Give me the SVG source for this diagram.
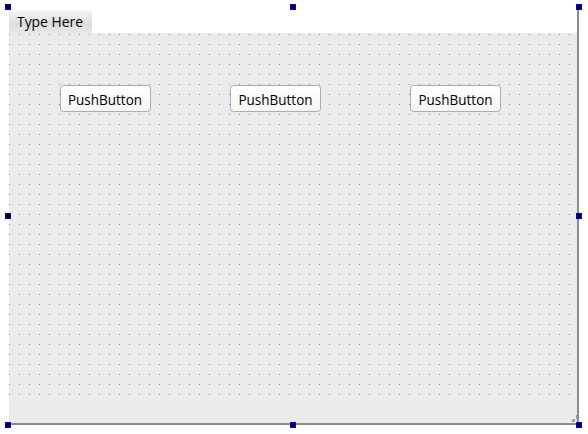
<svg xmlns="http://www.w3.org/2000/svg" width="588" height="434" viewBox="0 0 588 434">
<style>
.btn rect{fill:url(#btnGrad);stroke:#adadad;stroke-width:1}
.btn text,.menu text{font-family:"Open Sans","Noto Sans","DejaVu Sans",sans-serif;fill:#000}
.btn text{font-size:14px}
.handle{fill:#000;stroke:#0000ff;stroke-width:1}
</style>
<defs>
<linearGradient id="btnGrad" x1="0" y1="0" x2="0" y2="1">
<stop offset="0" stop-color="#ffffff"/>
<stop offset="1" stop-color="#f4f4f4"/>
</linearGradient>
<linearGradient id="menuGrad" x1="0" y1="0" x2="0" y2="1">
<stop offset="0" stop-color="#f8f8f8"/>
<stop offset="0.6" stop-color="#dcdcdc"/>
<stop offset="1" stop-color="#e8e8e8"/>
</linearGradient>
<pattern id="grid" patternUnits="userSpaceOnUse" x="9" y="34" width="10" height="10">
<rect x="0" y="0" width="1" height="1" fill="#8a8a8a" shape-rendering="crispEdges"/>
</pattern>
</defs>
<rect width="588" height="434" fill="#ffffff"/>
<g id="form">
<rect x="9" y="33" width="569" height="390" fill="#ebebeb"/>
<rect x="9" y="33" width="569" height="366" fill="url(#grid)"/>
<rect x="577" y="9" width="2" height="416" fill="#8c8c8c"/>
<rect x="9" y="423" width="570" height="2" fill="#8c8c8c"/>
<g fill="#a0a0a0">
<rect x="572" y="419" width="3" height="3"/>
<rect x="576" y="415" width="1" height="4"/>
</g>
</g>
<g id="menubar" class="menu">
<rect x="9" y="10" width="83" height="23" fill="url(#menuGrad)"/>
<text x="17" y="27" font-size="15" textLength="66" lengthAdjust="spacingAndGlyphs">Type Here</text>
</g>
<g id="pushButton1" class="btn">
<rect x="60.5" y="85.5" width="90" height="26" rx="3"/>
<text x="68" y="105" textLength="74" lengthAdjust="spacingAndGlyphs">PushButton</text>
</g>
<g id="pushButton2" class="btn">
<rect x="230.5" y="85.5" width="90" height="26" rx="3"/>
<text x="238.5" y="105" textLength="74" lengthAdjust="spacingAndGlyphs">PushButton</text>
</g>
<g id="pushButton3" class="btn">
<rect x="410.5" y="85.5" width="90" height="26" rx="3"/>
<text x="418.5" y="105" textLength="74" lengthAdjust="spacingAndGlyphs">PushButton</text>
</g>
<g id="handles">
<rect class="handle" x="5.5" y="4.5" width="5" height="5"/>
<rect class="handle" x="290.5" y="4.5" width="5" height="5"/>
<rect class="handle" x="576.5" y="4.5" width="5" height="5"/>
<rect class="handle" x="5.5" y="213.5" width="5" height="5"/>
<rect class="handle" x="576.5" y="213.5" width="5" height="5"/>
<rect class="handle" x="5.5" y="422.5" width="5" height="5"/>
<rect class="handle" x="290.5" y="422.5" width="5" height="5"/>
<rect class="handle" x="576.5" y="422.5" width="5" height="5"/>
</g>
<g id="connectors"/>
</svg>
